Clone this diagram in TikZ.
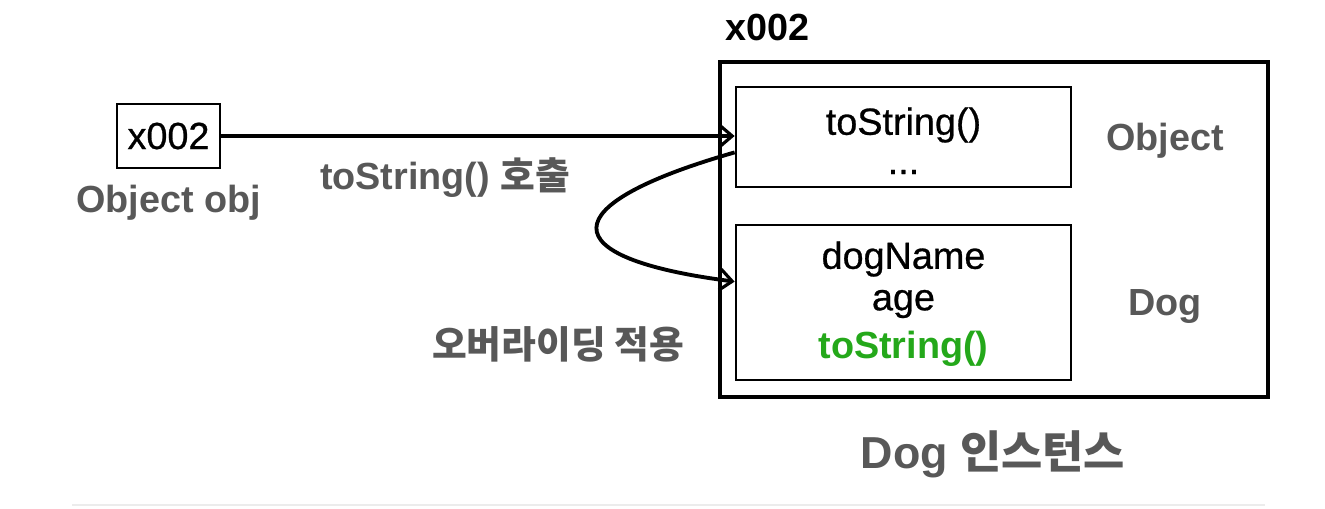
\documentclass[tikz,border=0pt]{standalone}
\usepackage{fontspec}
\setmainfont{Liberation Sans}
\newfontfamily\kr{Noto Sans CJK KR}
\newfontfamily\medium{Liberation Sans}[FakeBold=0.7]
\usetikzlibrary{arrows.meta, positioning}

\definecolor{labelgray}{RGB}{88,88,88}
\definecolor{overgreen}{RGB}{36,168,26}
\definecolor{rulegray}{RGB}{236,236,236}

\tikzset{
  membox/.style={draw, line width=1.6pt, inner sep=0pt},
  boxtext/.style={font=\medium\fontsize{21.5}{25}\selectfont, align=center},
  graylabel/.style={font=\bfseries\fontsize{21.5}{25}\selectfont, text=labelgray},
  ptr/.style={line width=2.2pt, -{Straight Barb[length=7pt, width=12pt, line width=1.8pt]}}
}

\begin{document}
\begin{tikzpicture}[x=0.02cm, y=-0.02cm]
  \useasboundingbox (0,0) rectangle (1325,508);

  % reference variable
  \draw (168.5,136) node[membox, minimum width=2.06cm, minimum height=1.28cm, boxtext] (ref) {x002};
  \node[graylabel, below=0.2cm of ref] (refname) {Object obj};

  % instance
  \draw (994,229.5) node[membox, line width=1.8pt, minimum width=10.96cm, minimum height=6.7cm] (inst) {};
  \node[font=\bfseries\fontsize{21.5}{25}\selectfont, anchor=west] (addr) at (719,27) {x002};
  \draw (903.5,137) node[membox, minimum width=6.7cm, minimum height=2cm] (parent) {};
  \draw (903.5,302.5) node[membox, minimum width=6.7cm, minimum height=3.1cm] (child) {};

  \node[boxtext] (ptostr) at (903.5,125) {toString()};
  \node[boxtext] (pdots) at (903.5,172) {...};
  \node[boxtext] (cname) at (903.5,259) {dogName};
  \node[boxtext] (cage) at (903.5,304) {age};
  \node[boxtext, text=overgreen, font=\bfseries\fontsize{21.5}{25}\selectfont] (ctostr) at (903.5,349) {toString()};

  \node[graylabel] (objlbl) at (1165,141) {Object};
  \node[graylabel] (doglbl) at (1165,306) {Dog};
  \node[graylabel, font=\bfseries\fontsize{25.5}{30}\selectfont] (instlbl) at (993,454) {Dog {\kr 인스턴스}};

  % calls
  \coordinate (callin) at (ref.east -| parent.west);
  \draw[ptr] (ref.east) -- (callin);
  \node[graylabel] (calllbl) at (445,178) {toString() {\kr 호출}};

  \coordinate (ovfrom) at ([yshift=0.72cm]parent.south west);
  \coordinate (ovto) at ([yshift=-1.16cm]child.north west);
  \draw[ptr] (ovfrom) .. controls (551,205) and (551,258) .. (ovto);
  \node[graylabel] (ovlbl) at (558,344) {\kr 오버라이딩 적용};

  % bottom rule
  \coordinate (ruleL) at (72,505);
  \coordinate (ruleR) at (1265,505);
  \draw[rulegray, line width=1pt] (ruleL) -- (ruleR);
\end{tikzpicture}
\end{document}
